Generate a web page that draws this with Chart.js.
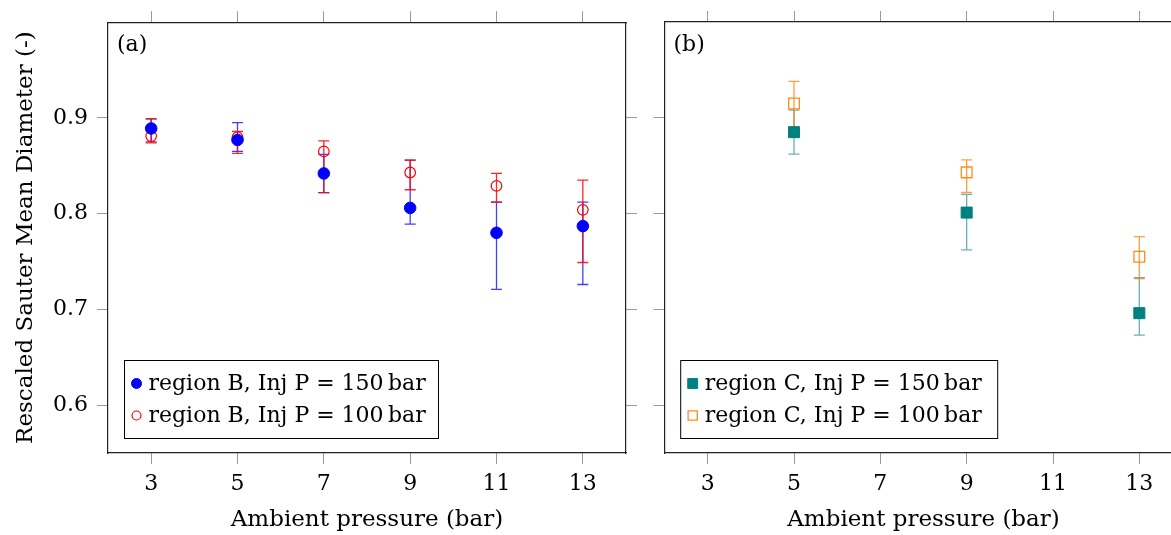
<!DOCTYPE html>
<html>
<head>
<meta charset="utf-8">
<script src="https://cdn.jsdelivr.net/npm/chart.js@4.4.0/dist/chart.umd.min.js"></script>
<style>
    html, body { margin: 0; padding: 0; background: #fff; overflow: hidden; }
    #wrap { position: relative; width: 1171px; height: 535px; overflow: hidden; }
    #chartB { position: absolute; left: 0; top: 0; }
    #chartC { position: absolute; left: 640px; top: 0; }
</style>
</head>
<body>
<div id="wrap">
    <canvas id="chartB" width="640" height="535"></canvas>
    <canvas id="chartC" width="560" height="535"></canvas>
</div>
<script>
// tick labels
const xTicks = [3, 5, 7, 9, 11, 13];
const yTicks = [0.6, 0.7, 0.8, 0.9];

// panel (a): region B
const pressureB = [3, 5, 7, 9, 11, 13];
const b150 = [0.889, 0.877, 0.842, 0.806, 0.780, 0.787];
const b150Low = [0.875, 0.865, 0.822, 0.789, 0.721, 0.726];
const b150High = [0.899, 0.895, 0.862, 0.856, 0.812, 0.812];
const b100 = [0.881, 0.880, 0.865, 0.843, 0.829, 0.804];
const b100Low = [0.874, 0.863, 0.822, 0.825, 0.812, 0.749];
const b100High = [0.899, 0.886, 0.876, 0.856, 0.842, 0.835];

// panel (b): region C
const pressureC = [5, 9, 13];
const c150 = [0.885, 0.801, 0.696];
const c150Low = [0.862, 0.762, 0.673];
const c150High = [0.908, 0.820, 0.733];
const c100 = [0.915, 0.843, 0.755];
const c100Low = [0.888, 0.822, 0.732];
const c100High = [0.938, 0.856, 0.776];

const FONT = "DejaVu Serif";
Chart.defaults.color = "#000";
Chart.defaults.font.family = FONT;

const toPoints = (xs, ys) => xs.map((x, i) => ({ x: x, y: ys[i] }));

// error bars are drawn before the markers so the markers sit on top
const errorBars = {
    id: "errorBars",
    beforeDatasetsDraw(chart) {
        const { ctx } = chart;
        const xScale = chart.scales.x;
        const yScale = chart.scales.y;
        ctx.save();
        chart.data.datasets.forEach((ds) => {
            ctx.strokeStyle = ds.errorColor;
            ctx.lineWidth = 1.3;
            ds.data.forEach((p, i) => {
                const px = xScale.getPixelForValue(p.x);
                const lo = yScale.getPixelForValue(ds.errorLow[i]);
                const hi = yScale.getPixelForValue(ds.errorHigh[i]);
                ctx.beginPath();
                ctx.moveTo(px, lo);
                ctx.lineTo(px, hi);
                ctx.moveTo(px - 5.5, lo);
                ctx.lineTo(px + 5.5, lo);
                ctx.moveTo(px - 5.5, hi);
                ctx.lineTo(px + 5.5, hi);
                ctx.stroke();
            });
        });
        ctx.restore();
    },
};

const legendBox = {
    id: "legendBox",
    afterDraw(chart, args, opts) {
        const { ctx } = chart;
        ctx.save();
        ctx.fillStyle = "#fff";
        ctx.fillRect(opts.x, opts.y, opts.w, opts.h);
        ctx.strokeStyle = "#000";
        ctx.lineWidth = 1;
        ctx.strokeRect(opts.x, opts.y, opts.w, opts.h);
        chart.data.datasets.forEach((ds, i) => {
            const cy = opts.y + 23 + i * 32;
            ctx.fillStyle = ds.backgroundColor;
            ctx.strokeStyle = ds.borderColor;
            ctx.lineWidth = ds.borderWidth;
            Chart.helpers.drawPoint(
                ctx,
                { pointStyle: ds.pointStyle, radius: opts.markerRadius[i], borderWidth: ds.borderWidth },
                opts.x + 12,
                cy
            );
            ctx.fillStyle = "#000";
            ctx.font = "22px " + FONT;
            ctx.textBaseline = "middle";
            ctx.textAlign = "left";
            ctx.fillText(ds.label, opts.x + 24, cy + 1);
        });
        ctx.restore();
    },
};

const panelLabel = {
    id: "panelLabel",
    afterDraw(chart, args, opts) {
        const { ctx } = chart;
        ctx.save();
        ctx.fillStyle = "#000";
        ctx.font = "22px " + FONT;
        ctx.textBaseline = "middle";
        ctx.fillText(opts.text, chart.chartArea.left + 9, chart.chartArea.top + 23);
        ctx.restore();
    },
};

function makeScales(sizes, showY) {
    const grid = {
        drawOnChartArea: false,
        drawTicks: true,
        tickLength: 11,
        color: "#999",
        tickColor: "#999",
    };
    const border = { display: true, color: "#222", width: 1.2 };
    const setX = (scale) => {
        scale.ticks = xTicks.map((v) => ({ value: v }));
    };
    const setY = (scale) => {
        scale.ticks = yTicks.map((v) => ({ value: v }));
    };
    return {
        x: {
            type: "linear",
            position: "bottom",
            min: 2,
            max: 14,
            afterBuildTicks: setX,
            afterFit: (s) => { s.height = sizes.bottom; },
            grid: grid,
            border: border,
            ticks: { padding: 7, font: { size: 22 }, callback: (v) => v },
            title: {
                display: true,
                text: "Ambient pressure (bar)",
                font: { size: 23 },
                padding: { top: 1, bottom: 1 },
            },
        },
        x2: {
            type: "linear",
            position: "top",
            min: 2,
            max: 14,
            afterBuildTicks: setX,
            afterFit: (s) => { s.height = sizes.top; },
            grid: grid,
            border: border,
            ticks: { display: false },
        },
        y: {
            type: "linear",
            position: "left",
            min: 0.55,
            max: 1.0,
            afterBuildTicks: setY,
            afterFit: (s) => { s.width = sizes.left; },
            grid: grid,
            border: border,
            ticks: {
                display: showY,
                padding: 9,
                font: { size: 22 },
                callback: (v) => v.toFixed(1),
            },
            title: {
                display: showY,
                text: "Rescaled Sauter Mean Diameter (-)",
                font: { size: 23 },
                padding: { top: 12, bottom: 12 },
            },
        },
        y2: {
            type: "linear",
            position: "right",
            min: 0.55,
            max: 1.0,
            afterBuildTicks: setY,
            afterFit: (s) => { s.width = sizes.right; },
            grid: grid,
            border: border,
            ticks: { display: false },
        },
    };
}

new Chart(document.querySelector("#chartB"), {
    type: "scatter",
    data: {
        datasets: [
            {
                label: "region B, Inj P = 150\u2009bar",
                data: toPoints(pressureB, b150),
                errorLow: b150Low,
                errorHigh: b150High,
                errorColor: "rgba(0,0,255,0.75)",
                pointStyle: "circle",
                pointRadius: 5.8,
                backgroundColor: "#0000ff",
                borderColor: "#0000ff",
                borderWidth: 1,
            },
            {
                label: "region B, Inj P = 100\u2009bar",
                data: toPoints(pressureB, b100),
                errorLow: b100Low,
                errorHigh: b100High,
                errorColor: "rgba(255,0,0,0.85)",
                pointStyle: "circle",
                pointRadius: 5.3,
                backgroundColor: "rgba(255,255,255,0)",
                borderColor: "#ff0000",
                borderWidth: 1.2,
            },
        ],
    },
    options: {
        responsive: false,
        animation: false,
        layout: { padding: 0 },
        scales: makeScales({ left: 108, right: 14, top: 22, bottom: 82 }, true),
        plugins: {
            legend: { display: false },
            tooltip: { enabled: false },
            legendBox: { x: 124.5, y: 360.5, w: 314, h: 78, markerRadius: [5, 4.5] },
            panelLabel: { text: "(a)" },
        },
    },
    plugins: [errorBars, legendBox, panelLabel],
});

new Chart(document.querySelector("#chartC"), {
    type: "scatter",
    data: {
        datasets: [
            {
                label: "region C, Inj P = 150\u2009bar",
                data: toPoints(pressureC, c150),
                errorLow: c150Low,
                errorHigh: c150High,
                errorColor: "rgba(0,128,128,0.6)",
                pointStyle: "rect",
                pointRadius: 7.8,
                backgroundColor: "#008080",
                borderColor: "#008080",
                borderWidth: 1,
            },
            {
                label: "region C, Inj P = 100\u2009bar",
                data: toPoints(pressureC, c100),
                errorLow: c100Low,
                errorHigh: c100High,
                errorColor: "rgba(255,128,0,0.75)",
                pointStyle: "rect",
                pointRadius: 7.6,
                backgroundColor: "rgba(255,255,255,0)",
                borderColor: "rgba(255,128,0,0.9)",
                borderWidth: 1.3,
            },
        ],
    },
    options: {
        responsive: false,
        animation: false,
        layout: { padding: 0 },
        scales: makeScales({ left: 24.5, right: 17.5, top: 22, bottom: 82 }, false),
        plugins: {
            legend: { display: false },
            tooltip: { enabled: false },
            legendBox: { x: 40.7, y: 360.5, w: 317, h: 78, markerRadius: [7, 6.5] },
            panelLabel: { text: "(b)" },
        },
    },
    plugins: [errorBars, legendBox, panelLabel],
});
</script>
</body>
</html>
